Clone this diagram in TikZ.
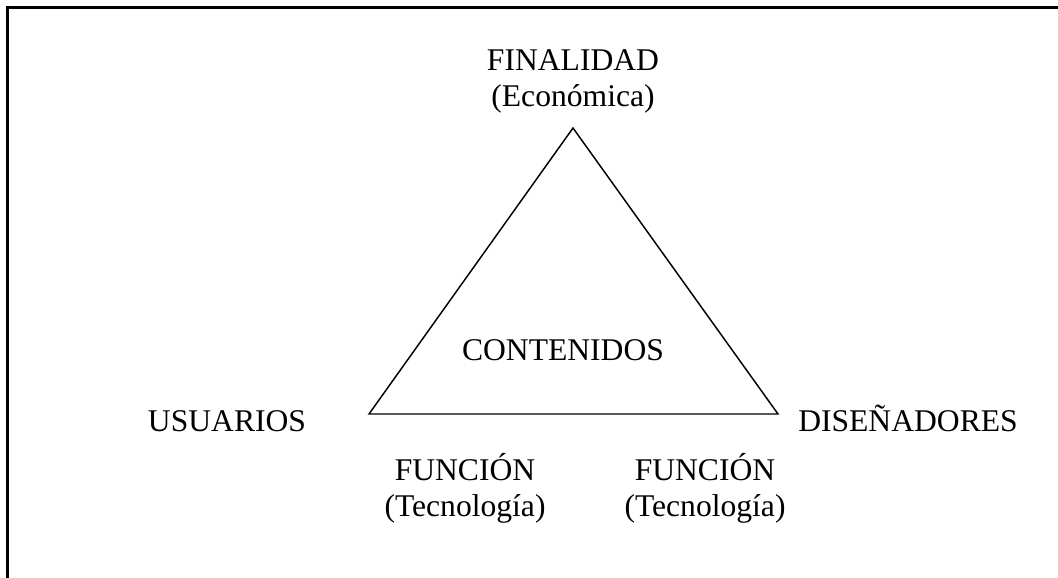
\documentclass[tikz,border=0pt]{standalone}
\usepackage{fontspec}
\setmainfont{Liberation Serif}
\usepackage{tikz}

\begin{document}
\begin{tikzpicture}
	[x=0.75pt, y=-0.75pt,
	label_style/.style={inner sep=0pt, align=center, anchor=base,
		font=\fontsize{23.7}{27}\selectfont},
	edge_style/.style={draw=black, line width=1.1pt, line join=miter},
	frame_style/.style={draw=black, line width=1.6pt}]
	\useasboundingbox (0,0) rectangle (1058,578);
	% frame, only top and left sides show
	\coordinate (fr_bl) at (7.5,578);
	\coordinate (fr_tl) at (7.5,7.5);
	\coordinate (fr_tr) at (1058,7.5);
	\draw[frame_style] (fr_bl) -- (fr_tl) -- (fr_tr);

	% triangle
	\coordinate (apex) at (573,128);
	\coordinate (left) at (369,414);
	\coordinate (right) at (778,414);
	\draw[edge_style] (apex) -- (left) -- (right) -- cycle;

	% base anchor sits on the last line
	\node[label_style] (finalidad) at (573,106) {FINALIDAD\\(Económica)};
	\node[label_style] (contenidos) at (563,360) {CONTENIDOS};
	\node[label_style] (usuarios) at (227,431) {USUARIOS};
	\node[label_style] (disenadores) at (908,431) {DISEÑADORES};
	\node[label_style] (funcion_a) at (465,516) {FUNCIÓN\\(Tecnología)};
	\node[label_style] (funcion_b) at (705,516) {FUNCIÓN\\(Tecnología)};
\end{tikzpicture}
\end{document}
